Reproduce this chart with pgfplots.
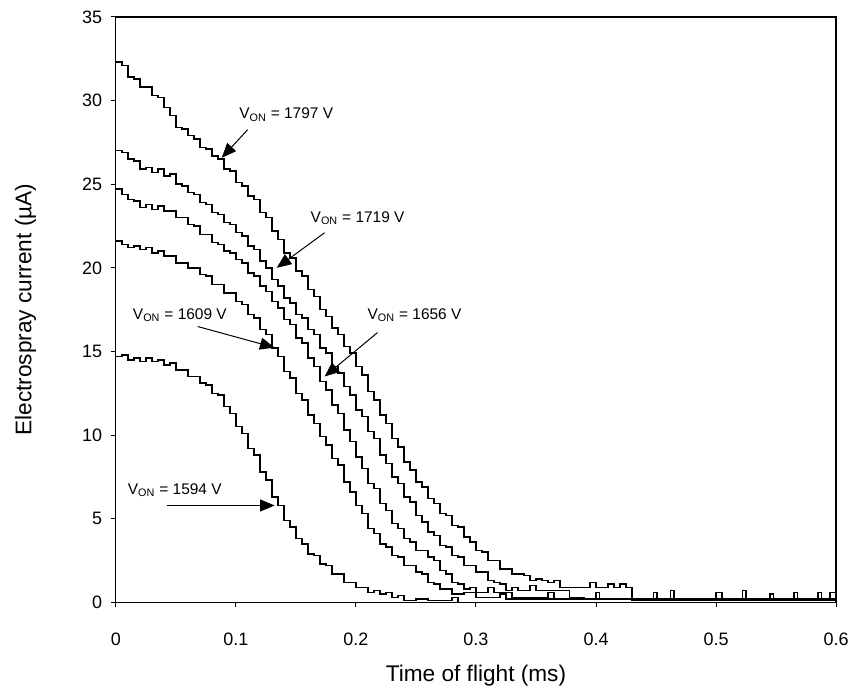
\documentclass[border=0pt]{standalone}
\usepackage{pgfplots}
\pgfplotsset{compat=1.18}
\usepackage{fontspec}
\setmainfont{Liberation Sans}
\usetikzlibrary{arrows.meta}
\begin{document}
\begin{tikzpicture}
\begin{axis}[
  width=540.75pt, height=439.5pt, scale only axis,
  xmin=0, xmax=0.6, ymin=0, ymax=35,
  xtick={0,0.1,0.2,0.3,0.4,0.5,0.6}, ytick={0,5,10,15,20,25,30,35},
  tick align=outside, tick pos=left, major tick length=3.75pt,
  axis line style={line width=0.9pt},
  every tick/.style={line width=0.75pt, black},
  /pgf/number format/assume math mode=true,
  ticklabel style={font=\fontsize{13.5}{16}\selectfont},
  xticklabel style={/pgf/number format/fixed, /pgf/number format/precision=1, yshift=-15.5pt},
  yticklabel style={xshift=-3pt},
  label style={font=\fontsize{17}{20}\selectfont},
  xlabel={Time of flight (ms)}, ylabel={Electrospray current (µA)},
  xlabel style={at={(rel axis cs:0.5,-0.126)}, anchor=center},
  ylabel style={at={(rel axis cs:-0.1255,0.5)}, anchor=center},
  curve/.style={black, line width=1.1pt, const plot, mark=none},
  clip=true,
]
% V_ON = 1797 V
\addplot[curve] coordinates {
(0,32.3)(0.005,32.1)(0.01,31.4)(0.015,31.3)(0.02,30.8)(0.025,30.8)(0.03,30.3)(0.035,30.2)(0.04,29.6)(0.045,29.1)
(0.05,28.4)(0.055,28.3)(0.06,27.9)(0.065,27.7)(0.07,27.2)(0.075,27.1)(0.08,26.7)(0.085,26.5)(0.09,25.9)(0.095,25.8)
(0.1,25.1)(0.105,24.9)(0.11,24.3)(0.115,24.1)(0.12,23.3)(0.125,23.0)(0.13,22.2)(0.135,21.7)(0.14,20.9)(0.145,20.6)
(0.15,19.8)(0.155,19.5)(0.16,18.7)(0.165,18.3)(0.17,17.5)(0.175,17.1)(0.18,16.4)(0.185,16.0)(0.19,15.3)(0.195,14.9)
(0.2,14.1)(0.205,13.6)(0.21,12.6)(0.215,12.1)(0.22,11.2)(0.225,10.7)(0.23,9.8)(0.235,9.3)(0.24,8.4)(0.245,7.9)
(0.25,7.2)(0.255,6.9)(0.26,6.2)(0.265,5.9)(0.27,5.3)(0.275,5.2)(0.28,4.6)(0.285,4.5)(0.29,3.9)(0.295,3.6)
(0.3,3.1)(0.305,3.0)(0.31,2.5)(0.315,2.5)(0.32,2.0)(0.325,2.0)(0.33,1.7)(0.335,1.7)(0.34,1.6)(0.345,1.3)
(0.35,1.4)(0.355,1.3)(0.36,1.2)(0.365,1.3)(0.37,0.9)(0.38,0.9)(0.395,1.2)(0.4,0.9)(0.41,1.1)(0.415,0.9)
(0.42,1.1)(0.425,0.9)(0.43,0.2)(0.44,0.1)(0.448,0.6)(0.451,0.1)(0.462,0.7)(0.465,0.1)(0.48,0.1)(0.5,0.6)
(0.505,0.1)(0.522,0.7)(0.525,0.1)(0.545,0.5)(0.548,0.1)(0.565,0.6)(0.568,0.1)(0.585,0.6)(0.588,0.1)(0.595,0.6)(0.6,0.1)
};
% V_ON = 1719 V
\addplot[curve] coordinates {
(0,27.0)(0.005,26.9)(0.01,26.5)(0.015,26.4)(0.02,25.9)(0.025,26.0)(0.03,25.7)(0.035,25.9)(0.04,25.5)(0.045,25.6)
(0.05,25.0)(0.055,24.9)(0.06,24.5)(0.065,24.4)(0.07,23.9)(0.075,23.8)(0.08,23.3)(0.085,23.2)(0.09,22.7)(0.095,22.6)
(0.1,22.1)(0.105,21.9)(0.11,21.3)(0.115,21.1)(0.12,20.4)(0.125,20.0)(0.13,19.3)(0.135,18.9)(0.14,18.2)(0.145,17.9)
(0.15,17.2)(0.155,17.0)(0.16,16.3)(0.165,16.0)(0.17,15.2)(0.175,14.9)(0.18,14.1)(0.185,13.7)(0.19,12.9)(0.195,12.4)
(0.2,11.5)(0.205,11.1)(0.21,10.2)(0.215,9.8)(0.22,8.8)(0.225,8.3)(0.23,7.5)(0.235,7.1)(0.24,6.3)(0.245,6.0)
(0.25,5.2)(0.255,4.8)(0.26,4.2)(0.265,4.0)(0.27,3.4)(0.275,3.3)(0.28,2.8)(0.285,2.7)(0.29,2.2)(0.295,2.2)
(0.3,1.8)(0.305,1.8)(0.31,1.3)(0.315,1.2)(0.32,1.1)(0.325,0.7)(0.33,0.9)(0.335,0.7)(0.345,1.0)(0.35,0.7)
(0.378,0.3)(0.39,0.2)(0.4,0.6)(0.403,0.2)(0.43,0.1)(0.6,0.1)
};
% V_ON = 1656 V
\addplot[curve] coordinates {
(0,24.7)(0.005,24.4)(0.01,24.1)(0.015,24.0)(0.02,23.6)(0.025,23.8)(0.03,23.5)(0.035,23.7)(0.04,23.4)(0.045,23.4)
(0.05,23.0)(0.055,23.0)(0.06,22.6)(0.065,22.5)(0.07,22.0)(0.075,22.0)(0.08,21.5)(0.085,21.4)(0.09,21.0)(0.095,20.9)
(0.1,20.5)(0.105,20.3)(0.11,19.7)(0.115,19.5)(0.12,18.9)(0.125,18.6)(0.13,18.0)(0.135,17.6)(0.14,16.9)(0.145,16.6)
(0.15,15.8)(0.155,15.5)(0.16,14.6)(0.165,14.1)(0.17,13.2)(0.175,12.7)(0.18,11.8)(0.185,11.3)(0.19,10.3)(0.195,9.6)
(0.2,8.7)(0.205,8.0)(0.21,7.1)(0.215,6.8)(0.22,5.9)(0.225,5.5)(0.23,4.7)(0.235,4.4)(0.24,3.8)(0.245,3.6)
(0.25,3.1)(0.255,3.1)(0.26,2.7)(0.265,2.5)(0.27,1.9)(0.275,1.7)(0.28,1.2)(0.285,1.1)(0.29,0.8)(0.295,0.9)
(0.3,0.6)(0.31,0.9)(0.315,0.6)(0.33,0.3)(0.36,0.6)(0.365,0.2)(0.6,0.1)
};
% V_ON = 1609 V
\addplot[curve] coordinates {
(0,21.6)(0.005,21.4)(0.01,21.2)(0.015,21.3)(0.02,21.1)(0.025,21.2)(0.03,20.9)(0.035,21.0)(0.04,20.7)(0.045,20.7)
(0.05,20.3)(0.055,20.3)(0.06,20.0)(0.065,20.0)(0.07,19.6)(0.075,19.5)(0.08,19.0)(0.085,19.0)(0.09,18.5)(0.095,18.5)
(0.1,18.0)(0.105,17.8)(0.11,17.2)(0.115,17.0)(0.12,16.3)(0.125,16.0)(0.13,15.2)(0.135,14.7)(0.14,13.8)(0.145,13.4)
(0.15,12.5)(0.155,12.1)(0.16,11.2)(0.165,10.7)(0.17,9.9)(0.175,9.4)(0.18,8.6)(0.185,8.2)(0.19,7.2)(0.195,6.6)
(0.2,5.8)(0.205,5.3)(0.21,4.4)(0.215,4.1)(0.22,3.5)(0.225,3.3)(0.23,2.8)(0.235,2.7)(0.24,2.2)(0.245,2.2)
(0.25,1.8)(0.255,1.7)(0.26,1.2)(0.265,1.1)(0.27,0.8)(0.275,0.8)(0.28,0.5)(0.29,0.6)(0.3,0.3)(0.32,0.5)
(0.325,0.2)(0.6,0.1)
};
% V_ON = 1594 V
\addplot[curve] coordinates {
(0,14.7)(0.005,14.8)(0.01,14.5)(0.015,14.6)(0.02,14.4)(0.025,14.6)(0.03,14.4)(0.035,14.5)(0.04,14.2)(0.045,14.3)
(0.05,13.9)(0.055,13.9)(0.06,13.5)(0.065,13.5)(0.07,13.1)(0.075,13.0)(0.08,12.5)(0.085,12.4)(0.09,11.7)(0.095,11.3)
(0.1,10.5)(0.105,10.1)(0.11,9.2)(0.115,8.8)(0.12,7.8)(0.125,7.3)(0.13,6.3)(0.135,5.8)(0.14,4.9)(0.145,4.5)
(0.15,3.8)(0.155,3.5)(0.16,2.9)(0.165,2.8)(0.17,2.3)(0.175,2.2)(0.18,1.7)(0.185,1.7)(0.19,1.2)(0.195,1.2)
(0.2,0.9)(0.205,0.9)(0.21,0.6)(0.215,0.7)(0.22,0.5)(0.225,0.6)(0.23,0.3)(0.235,0.4)(0.24,0.1)(0.25,0.2)
(0.26,0.1)(0.28,0.3)(0.285,0.0)(0.6,0.1)
};
% annotations
\begin{scope}[font=\fontsize{11.6}{13}\selectfont]
\node at (axis cs:0.1419,29.15) {V\textsubscript{ON} = 1797 V};
\node at (axis cs:0.2014,22.97) {V\textsubscript{ON} = 1719 V};
\node at (axis cs:0.2488,17.17) {V\textsubscript{ON} = 1656 V};
\node at (axis cs:0.0533,17.17) {V\textsubscript{ON} = 1609 V};
\node at (axis cs:0.0491,6.72) {V\textsubscript{ON} = 1594 V};
\end{scope}
\begin{scope}[line width=0.75pt, -{Triangle[length=11pt,width=9pt]}]
\draw (axis cs:0.1098,28.26) -- (axis cs:0.0882,26.58);
\draw (axis cs:0.1739,22.10) -- (axis cs:0.134,20.0);
\draw (axis cs:0.218,16.13) -- (axis cs:0.1739,13.5);
\draw (axis cs:0.0682,16.49) -- (axis cs:0.1323,15.23);
\draw (axis cs:0.0424,5.79) -- (axis cs:0.1323,5.79);
\end{scope}
\coordinate (bl) at (rel axis cs:-0.1609,-0.1485);
\coordinate (tr) at (rel axis cs:1.0222,1.029);
\end{axis}
\path (bl) rectangle (tr);
\end{tikzpicture}
\end{document}
